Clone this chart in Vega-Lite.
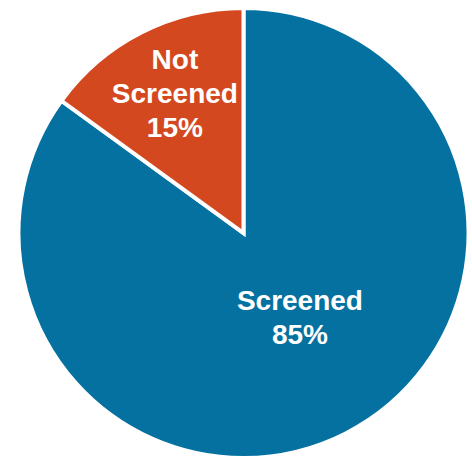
{
  "$schema": "https://vega.github.io/schema/vega-lite/v6.json",
  "width": 450,
  "height": 450,
  "autosize": {"type": "none"},
  "padding": {"left": 18.5, "top": 8, "right": 3.5, "bottom": 0},
  "background": "white",
  "view": {"stroke": null},
  "data": {"values": [
    {"status": "Screened", "pct": 85, "label": "Screened\n85%", "ord": 1},
    {"status": "Not Screened", "pct": 15, "label": "Not\nScreened\n15%", "ord": 2}
  ]},
  "transform": [
    {"stack": "pct", "groupby": [], "sort": [{"field": "ord", "order": "ascending"}], "as": ["p0", "p1"]},
    {"calculate": "(datum.p0 + datum.p1) / 2", "as": "pmid"}
  ],
  "layer": [
    {
      "mark": {"type": "arc", "stroke": "white", "strokeWidth": 4},
      "encoding": {
        "theta": {"field": "p0", "type": "quantitative", "scale": {"domain": [0, 100]}},
        "theta2": {"field": "p1"},
        "color": {"field": "status", "type": "nominal", "legend": null,
          "scale": {"domain": ["Screened", "Not Screened"], "range": ["#0571A1", "#D4481F"]}}
      }
    },
    {
      "transform": [{"filter": "datum.status == 'Not Screened'"}],
      "mark": {"type": "text", "radius": 193, "dx": 19, "lineBreak": "\n", "lineHeight": 34, "font": "Liberation Sans", "fontWeight": "bold", "fontSize": 28, "fill": "white", "align": "center", "baseline": "middle"},
      "encoding": {
        "theta": {"field": "pmid", "type": "quantitative", "scale": {"domain": [0, 100]}},
        "text": {"field": "label"}
      }
    },
    {
      "transform": [{"filter": "datum.status == 'Screened'"}],
      "mark": {"type": "text", "radius": 78, "dx": 21, "lineBreak": "\n", "lineHeight": 34, "font": "Liberation Sans", "fontWeight": "bold", "fontSize": 28, "fill": "white", "align": "center", "baseline": "middle"},
      "encoding": {
        "theta": {"field": "pmid", "type": "quantitative", "scale": {"domain": [0, 100]}},
        "text": {"field": "label"}
      }
    }
  ]
}
